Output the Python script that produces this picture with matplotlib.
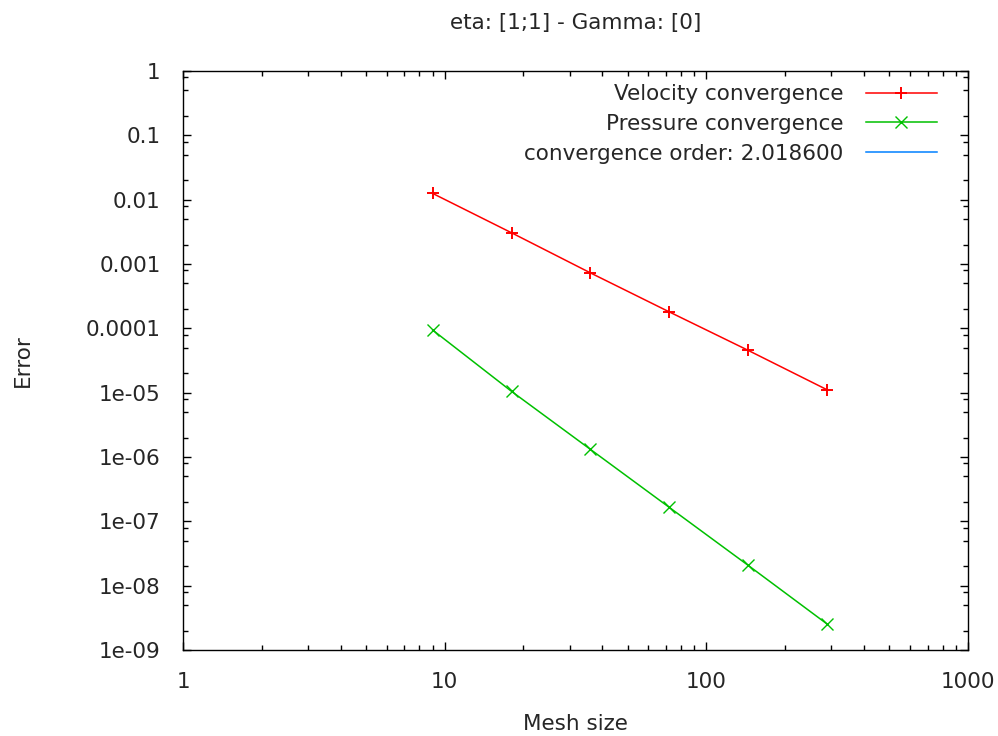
import matplotlib
matplotlib.use("Agg")
import matplotlib.pyplot as plt
from matplotlib.ticker import LogLocator, FixedFormatter, NullFormatter

plt.rcParams['font.family'] = ['DejaVu Sans']

# mesh sizes and errors
mesh = [9, 18, 36, 72, 144, 288]
vel_err = [1.25e-2, 3.06e-3, 7.3e-4, 1.81e-4, 4.58e-5, 1.12e-5]
pres_err = [9.4e-5, 1.05e-5, 1.32e-6, 1.66e-7, 2.09e-8, 2.57e-9]
order_label = "convergence order: 2.018600"

xticks = [1, 10, 100, 1000]
xlabels = ["1", "10", "100", "1000"]
yticks = [1e-9, 1e-8, 1e-7, 1e-6, 1e-5, 1e-4, 1e-3, 1e-2, 1e-1, 1]
ylabels = ["1e-09", "1e-08", "1e-07", "1e-06", "1e-05",
           "0.0001", "0.001", "0.01", "0.1", "1"]

fs = 15.5
txt = "#262626"
fig = plt.figure(figsize=(9.98, 7.36), dpi=100)
ax = fig.add_axes([0.1834, 0.1168, 0.7866, 0.7867])

ax.plot(mesh, vel_err, color="#ff0000", lw=1.1, marker="+", ms=9, mew=1.4,
        label="Velocity convergence")
ax.plot(mesh, pres_err, color="#00c000", lw=1.1, marker="x", ms=8, mew=1.0,
        label="Pressure convergence")
ax.plot([], [], color="#0080ff", lw=1.1, label=order_label)

ax.set_xscale("log")
ax.set_yscale("log")
ax.set_xlim(1, 1000)
ax.set_ylim(1e-9, 1)

ax.set_xticks(xticks)
ax.xaxis.set_major_formatter(FixedFormatter(xlabels))
ax.xaxis.set_minor_locator(LogLocator(base=10, subs=range(2, 10)))
ax.xaxis.set_minor_formatter(NullFormatter())
ax.set_yticks(yticks)
ax.yaxis.set_major_formatter(FixedFormatter(ylabels))
ax.yaxis.set_minor_locator(LogLocator(base=10, subs=[2, 5, 8], numticks=20))
ax.yaxis.set_minor_formatter(NullFormatter())

ax.tick_params(which="both", direction="in", top=True, right=True,
               labelsize=fs, color="black", labelcolor=txt, width=1.0)
ax.tick_params(which="major", length=6)
ax.tick_params(axis="y", which="major", pad=16)
ax.tick_params(axis="x", which="major", pad=16)
ax.tick_params(which="minor", length=3.5)
for sp in ax.spines.values():
    sp.set_linewidth(1.0)

ax.set_xlabel("Mesh size", fontsize=fs, labelpad=16, color=txt)
ax.set_ylabel("Error", fontsize=fs, labelpad=38, color=txt)
ax.set_title("eta: [1;1] - Gamma: [0]", fontsize=fs, pad=30, color=txt)

leg = ax.legend(loc="upper right", bbox_to_anchor=(0.96, 0.977), frameon=False,
                markerfirst=False, fontsize=fs, handlelength=3.3,
                handletextpad=1.05, labelspacing=0.45, borderpad=0,
                borderaxespad=0)
for t in leg.get_texts():
    t.set_color(txt)

fig.savefig("out.png", dpi=100)
